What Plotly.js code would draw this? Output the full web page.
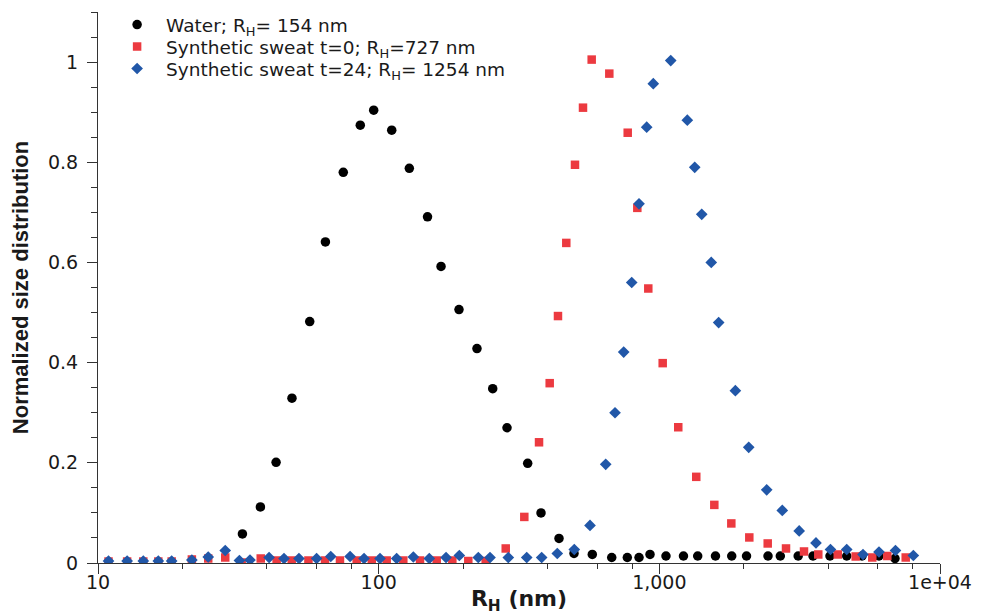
<!DOCTYPE html>
<html>
<head>
<meta charset="utf-8">
<script src="https://cdn.plot.ly/plotly-3.0.1.min.js"></script>
<style>
html,body{margin:0;padding:0;background:#fff;}
#chart{width:983px;height:615px;}
</style>
</head>
<body>
<div id="chart"></div>
<script>
// Water
const waterX = [32.7,37.9,43.1,49.1,56.8,64.6,74.8,86.0,96.0,111.3,128.6,149.3,166.8,193.3,224.0,254.9,286.6,339.6,378.8,439.1,496.6,577.0,676.7,769.0,846.5,926.4,1056,1219,1370,1585,1811,2045,2439,2698,3124,3528,4055,4652,5274,6062,6912];
const waterY = [0.058,0.112,0.201,0.329,0.482,0.641,0.780,0.874,0.904,0.864,0.788,0.691,0.592,0.506,0.428,0.348,0.270,0.199,0.100,0.049,0.019,0.017,0.011,0.011,0.011,0.017,0.014,0.014,0.014,0.014,0.014,0.014,0.014,0.014,0.014,0.014,0.014,0.014,0.014,0.014,0.009];

// Synthetic sweat t=0
const sweat0X = [10.9,12.7,14.5,16.4,18.3,21.6,24.7,28.4,32.5,38.0,43.3,49.0,56.2,64.4,72.8,83.5,94.5,106.8,122.4,140.4,161.0,183.0,208.6,240.6,283.6,330.3,372.7,406.8,435.4,466.1,500.6,534.6,574.1,663.4,771.5,834.8,913.4,1028,1168,1354,1570,1805,2092,2433,2827,3277,3684,4322,5007,5738,6491,7548];
const sweat0Y = [0.003,0.003,0.003,0.003,0.003,0.007,0.009,0.011,0.001,0.009,0.005,0.005,0.005,0.005,0.005,0.005,0.005,0.005,0.005,0.005,0.005,0.005,0.004,0.004,0.029,0.092,0.241,0.359,0.493,0.639,0.795,0.909,1.005,0.977,0.859,0.709,0.548,0.399,0.271,0.172,0.116,0.079,0.051,0.039,0.029,0.023,0.017,0.017,0.013,0.011,0.014,0.011];

// Synthetic sweat t=24
const sweat24X = [10.9,12.7,14.5,16.4,18.3,21.6,24.7,28.4,31.9,34.8,40.7,46.0,52.0,60.1,67.5,79.1,88.7,101.1,115.9,132.9,151.5,173.8,193.8,226.5,249.3,289.7,336.9,380.9,432.9,497.7,566.2,644.1,695.2,746.5,797.2,846.5,901.5,951.6,1098,1258,1337,1416,1531,1627,1866,2082,2413,2742,3150,3615,4072,4652,5317,6062,6941,8035];
const sweat24Y = [0.004,0.004,0.004,0.004,0.004,0.006,0.012,0.025,0.005,0.006,0.011,0.009,0.009,0.009,0.013,0.013,0.009,0.009,0.009,0.012,0.009,0.011,0.015,0.011,0.011,0.011,0.011,0.011,0.019,0.027,0.075,0.197,0.300,0.421,0.560,0.717,0.870,0.957,1.003,0.884,0.790,0.696,0.600,0.480,0.344,0.231,0.146,0.105,0.064,0.040,0.027,0.027,0.017,0.022,0.025,0.015];

const seriesNames = [
  "Water; R<sub>H</sub>= 154 nm",
  "Synthetic sweat t=0; R<sub>H</sub>=727 nm",
  "Synthetic sweat t=24; R<sub>H</sub>= 1254 nm"
];

const xTickVals = [10, 100, 1000, 10000];
const xTickText = ["10", "100", "1,000", "1e+04"];
const xMinorVals = [20,40,60,80,200,400,600,800,2000,4000,6000,8000];

const axisColor = "#333333";
const textFont = "DejaVu Sans, Verdana, sans-serif";
const legendFont = {family: textFont, size: 18.5, color: "#1a1a1a"};

function legendBox(yPaper) {
  return {x: 0.012, y: yPaper, xanchor: "left", yanchor: "middle",
          bgcolor: "rgba(0,0,0,0)", borderwidth: 0, itemwidth: 48, font: legendFont};
}

const traces = [
  {x: waterX, y: waterY, name: seriesNames[0], type: "scatter", mode: "markers", legend: "legend",
   marker: {symbol: "circle", size: 9.5, color: "#000000"}},
  {x: sweat0X, y: sweat0Y, name: seriesNames[1], type: "scatter", mode: "markers", legend: "legend2",
   marker: {symbol: "square", size: 8.5, color: "#ec3a40"}},
  {x: sweat24X, y: sweat24Y, name: seriesNames[2], type: "scatter", mode: "markers", legend: "legend3",
   marker: {symbol: "diamond", size: 9, color: "#2157a8"}}
];

const layout = {
  width: 983, height: 615,
  margin: {l: 98, r: 43, t: 12, b: 52, pad: 0, autoexpand: false},
  paper_bgcolor: "#ffffff", plot_bgcolor: "#ffffff",
  font: {family: textFont, color: "#1a1a1a", size: 18},
  showlegend: true,
  legend: legendBox(0.9764),
  legend2: legendBox(0.9365),
  legend3: legendBox(0.8966),
  xaxis: {
    type: "log", range: [1, 4], autorange: false,
    showgrid: false, zeroline: false,
    showline: true, linecolor: axisColor, linewidth: 1,
    ticks: "outside", ticklen: 10, tickwidth: 1, tickcolor: axisColor,
    tickmode: "array", tickvals: xTickVals, ticktext: xTickText,
    ticklabelstandoff: -8,
    tickfont: {family: textFont, size: 19, color: "#1a1a1a"},
    minor: {tickmode: "array", tickvals: xMinorVals, ticks: "outside", ticklen: 5, tickwidth: 1, tickcolor: axisColor, showgrid: false},
    title: {text: "<b>R<sub>H</sub> (nm)</b>", font: {family: "DejaVu Sans, sans-serif", size: 22, color: "#1a1a1a"}, standoff: 23}
  },
  yaxis: {
    range: [0, 1.1], autorange: false,
    showgrid: false, zeroline: false,
    showline: true, linecolor: axisColor, linewidth: 1,
    ticks: "outside", ticklen: 10, tickwidth: 1, tickcolor: axisColor,
    tickmode: "linear", dtick: 0.2, tick0: 0,
    ticklabelstandoff: 5,
    tickfont: {family: textFont, size: 19, color: "#1a1a1a"},
    minor: {tickmode: "linear", dtick: 0.05, tick0: 0, ticks: "outside", ticklen: 6, tickwidth: 1, tickcolor: axisColor, showgrid: false},
    title: {text: "<b>Normalized size distribution</b>", font: {family: "Liberation Sans, Arial, sans-serif", size: 22, color: "#1a1a1a"}, standoff: 13}
  }
};

Plotly.newPlot("chart", traces, layout, {displayModeBar: false, staticPlot: true});
</script>
</body>
</html>
